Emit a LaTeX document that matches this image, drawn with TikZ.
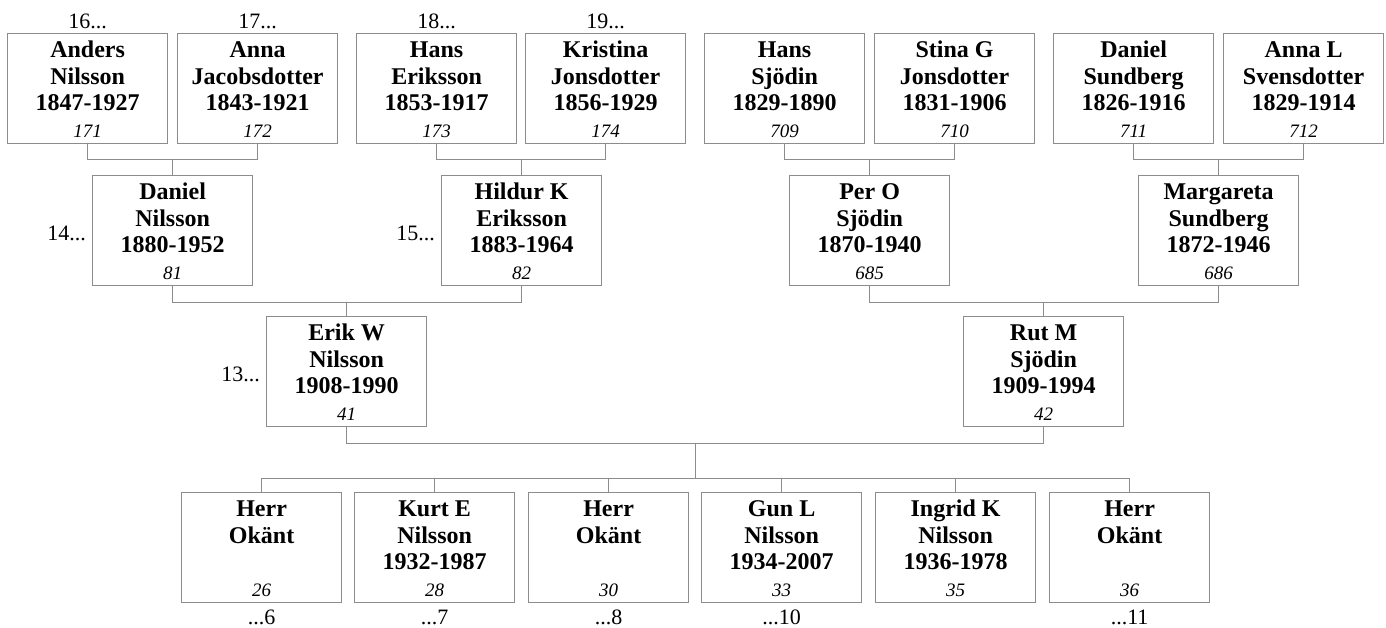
\documentclass[tikz,border=0pt]{standalone}
\usepackage{fontspec}
\setmainfont{Liberation Serif}
\definecolor{boxgray}{HTML}{8C8C8C}
\tikzset{
  x=1pt, y=1pt,
  pbox/.style={draw=boxgray, line width=1.2pt, minimum width=160pt, minimum height=110pt, inner sep=0pt, fill=white},
  bt/.style={anchor=base, inner sep=0pt, font=\fontsize{24}{27}\selectfont\bfseries},
  itx/.style={anchor=base, inner sep=0pt, font=\fontsize{19}{22}\selectfont\itshape},
  lbl/.style={inner sep=0pt, font=\fontsize{22}{24}\selectfont},
  conn/.style={draw=boxgray, line width=1pt}
}
\newcommand\pers[7]{%
  \node[pbox, anchor=north west] (#1) at (#2,-#3) {};
  \node[bt] (#1-a) at ([yshift=-24pt]#1.north) {#4};
  \node[bt] (#1-b) at ([yshift=-51pt]#1.north) {#5};
  \node[bt] (#1-c) at ([yshift=-77.7pt]#1.north) {#6};
  \node[itx] (#1-n) at ([yshift=-104pt]#1.north) {#7};
}
\begin{document}
\begin{tikzpicture}
\useasboundingbox (0,0) rectangle (1386,-627);
% top row
\pers{t1}{7}{33}{Anders}{Nilsson}{1847-1927}{171}
\pers{t2}{177}{33}{Anna}{Jacobsdotter}{1843-1921}{172}
\pers{t3}{356}{33}{Hans}{Eriksson}{1853-1917}{173}
\pers{t4}{525}{33}{Kristina}{Jonsdotter}{1856-1929}{174}
\pers{t5}{704}{33}{Hans}{Sjödin}{1829-1890}{709}
\pers{t6}{874}{33}{Stina G}{Jonsdotter}{1831-1906}{710}
\pers{t7}{1053}{33}{Daniel}{Sundberg}{1826-1916}{711}
\pers{t8}{1223}{33}{Anna L}{Svensdotter}{1829-1914}{712}
% middle row
\pers{m1}{92}{175}{Daniel}{Nilsson}{1880-1952}{81}
\pers{m2}{441}{175}{Hildur K}{Eriksson}{1883-1964}{82}
\pers{m3}{789}{175}{Per O}{Sjödin}{1870-1940}{685}
\pers{m4}{1138}{175}{Margareta}{Sundberg}{1872-1946}{686}
% parents
\pers{p1}{266}{316}{Erik W}{Nilsson}{1908-1990}{41}
\pers{p2}{963}{316}{Rut M}{Sjödin}{1909-1994}{42}
% children
\pers{k1}{181}{492}{Herr}{Okänt}{}{26}
\pers{k2}{354}{492}{Kurt E}{Nilsson}{1932-1987}{28}
\pers{k3}{528}{492}{Herr}{Okänt}{}{30}
\pers{k4}{701}{492}{Gun L}{Nilsson}{1934-2007}{33}
\pers{k5}{875}{492}{Ingrid K}{Nilsson}{1936-1978}{35}
\pers{k6}{1049}{492}{Herr}{Okänt}{}{36}
% labels
\node[lbl, anchor=base] (l16) at ([yshift=5pt]t1.north) {16...};
\node[lbl, anchor=base] (l17) at ([yshift=5pt]t2.north) {17...};
\node[lbl, anchor=base] (l18) at ([yshift=5pt]t3.north) {18...};
\node[lbl, anchor=base] (l19) at ([yshift=5pt]t4.north) {19...};
\node[lbl, anchor=base east] (l14) at ([xshift=-6pt,yshift=-9.5pt]m1.west) {14...};
\node[lbl, anchor=base east] (l15) at ([xshift=-6pt,yshift=-9.5pt]m2.west) {15...};
\node[lbl, anchor=base east] (l13) at ([xshift=-6pt,yshift=-10pt]p1.west) {13...};
\node[lbl, anchor=base] (l6) at ([yshift=-21pt]k1.south) {...6};
\node[lbl, anchor=base] (l7) at ([yshift=-21pt]k2.south) {...7};
\node[lbl, anchor=base] (l8) at ([yshift=-21pt]k3.south) {...8};
\node[lbl, anchor=base] (l10) at ([yshift=-21pt]k4.south) {...10};
\node[lbl, anchor=base] (l11) at ([yshift=-21pt]k6.south) {...11};
% connectors top -> middle
\draw[conn] (t1.south) -- ++(0,-15) coordinate (j1) -| (t2.south);
\draw[conn] (m1.north) -- (m1.north |- j1);
\draw[conn] (t3.south) -- ++(0,-15) coordinate (j2) -| (t4.south);
\draw[conn] (m2.north) -- (m2.north |- j2);
\draw[conn] (t5.south) -- ++(0,-15) coordinate (j3) -| (t6.south);
\draw[conn] (m3.north) -- (m3.north |- j3);
\draw[conn] (t7.south) -- ++(0,-15) coordinate (j4) -| (t8.south);
\draw[conn] (m4.north) -- (m4.north |- j4);
% middle -> parents
\draw[conn] (m1.south) -- ++(0,-16) coordinate (j5) -| (m2.south);
\draw[conn] (p1.north) -- (p1.north |- j5);
\draw[conn] (m3.south) -- ++(0,-16) coordinate (j6) -| (m4.south);
\draw[conn] (p2.north) -- (p2.north |- j6);
% parents -> children
\draw[conn] (p1.south) -- ++(0,-16) coordinate (j7) -| (p2.south);
\path (j7) -- (p2.south |- j7) coordinate[pos=0.5] (jm);
\draw[conn] (jm) -- ++(0,-35) coordinate (cl);
\draw[conn] (k1.north) -- (k1.north |- cl) -- (k6.north |- cl) -- (k6.north);
\foreach \k in {k2,k3,k4,k5} \draw[conn] (\k.north) -- (\k.north |- cl);
\end{tikzpicture}
\end{document}
